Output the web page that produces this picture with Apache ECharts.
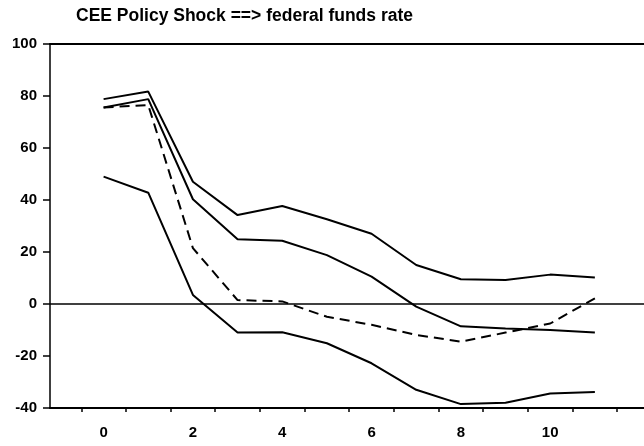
<!DOCTYPE html>
<html>
<head>
<meta charset="utf-8">
<script src="https://cdn.jsdelivr.net/npm/echarts@6/dist/echarts.min.js"></script>
<style>
  html, body { margin: 0; padding: 0; background: #fff; }
  #chart { width: 644px; height: 446px; }
</style>
</head>
<body>
<div id="chart"></div>
<script>
const steps = [0, 1, 2, 3, 4, 5, 6, 7, 8, 9, 10, 11]
const upperBand = [78.8, 81.7, 47, 34.2, 37.7, 32.6, 27, 15, 9.5, 9.2, 11.3, 10.2]
const pointResponse = [75.6, 78.8, 40.3, 24.9, 24.3, 18.8, 10.5, -1, -8.6, -9.4, -10, -11]
const lowerBand = [49, 42.8, 3.5, -11, -10.9, -15.1, -22.8, -33, -38.5, -38, -34.4, -33.8]
const dashedResponse = [75.6, 76.5, 21.5, 1.5, 1, -4.9, -8, -11.9, -14.5, -11, -7.5, 2.2]
const xLabels = [0, 2, 4, 6, 8, 10]
const xTicks = [-0.5, 0.5, 1.5, 2.5, 3.5, 4.5, 5.5, 6.5, 7.5, 8.5, 9.5, 10.5, 11.5]

const pairs = (ys) => steps.map((x, i) => [x, ys[i]])

const lineSeries = (name, ys, dashed) => ({
  name: name,
  type: 'line',
  data: pairs(ys),
  symbol: 'none',
  silent: true,
  lineStyle: {
    color: '#000',
    width: 2,
    type: dashed ? [10, 6] : 'solid',
  },
})

const labelFont = {
  color: '#000',
  fontSize: 15,
  fontWeight: 'bold',
  fontFamily: 'Liberation Sans, Arial, sans-serif',
}

const option = {
  animation: false,
  backgroundColor: '#fff',
  title: {
    text: 'CEE Policy Shock ==> federal funds rate',
    left: 71,
    top: 2,
    textStyle: {
      fontFamily: 'Liberation Sans, Arial, sans-serif',
      fontSize: 17.5,
      fontWeight: 'bold',
      color: '#000',
    },
  },
  grid: { left: 50, right: 0, top: 44, bottom: 38 },
  xAxis: [
    {
      type: 'value',
      min: -1.2,
      max: 12.1,
      axisLine: { show: true, onZero: false, lineStyle: { color: '#000', width: 2 } },
      axisTick: { show: true, customValues: xTicks, length: 4, lineStyle: { color: '#000', width: 1.5 } },
      axisLabel: Object.assign({ customValues: xLabels, margin: 17 }, labelFont),
      splitLine: { show: false },
    },
    {
      type: 'value',
      position: 'top',
      min: -1.2,
      max: 12.1,
      axisLine: { show: true, onZero: false, lineStyle: { color: '#000', width: 2 } },
      axisTick: { show: false },
      axisLabel: { show: false },
      splitLine: { show: false },
    },
  ],
  yAxis: {
    type: 'value',
    min: -40,
    max: 100,
    interval: 20,
    axisLine: { show: true, onZero: false, lineStyle: { color: '#000', width: 1.5 } },
    axisTick: { show: true, length: 7, lineStyle: { color: '#000', width: 1.5 } },
    axisLabel: Object.assign({ margin: 13 }, labelFont),
    splitLine: { show: false },
  },
  series: [
    Object.assign(lineSeries('upper', upperBand, false), {
      markLine: {
        silent: true,
        symbol: ['none', 'none'],
        label: { show: false },
        lineStyle: { color: '#000', width: 1.5, type: 'solid' },
        data: [{ yAxis: 0 }],
      },
    }),
    lineSeries('response', pointResponse, false),
    lineSeries('lower', lowerBand, false),
    lineSeries('dashed', dashedResponse, true),
  ],
}

const myChart = echarts.init(document.getElementById('chart'))
myChart.setOption(option)
</script>
</body>
</html>
